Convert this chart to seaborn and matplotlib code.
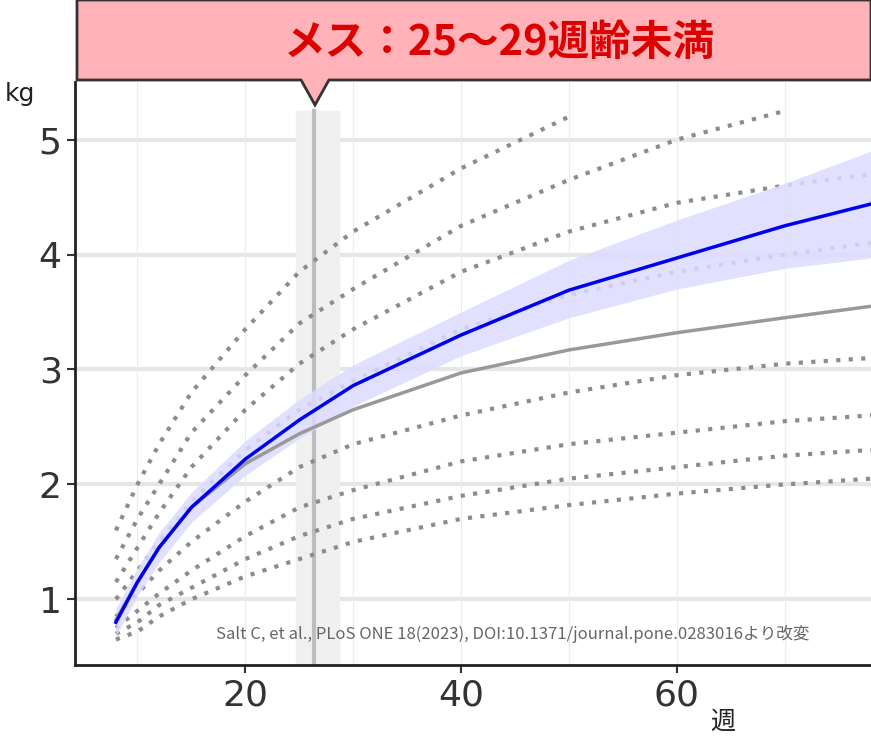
import numpy as np
import pandas as pd
import matplotlib
matplotlib.use("Agg")
import matplotlib.pyplot as plt
import seaborn as sns
from matplotlib.patches import Polygon

weeks = [8, 10, 12, 15, 20, 25, 30, 40, 50, 60, 70, 78]
blue_mean = [0.8, 1.15, 1.45, 1.8, 2.22, 2.56, 2.86, 3.3, 3.69, 3.97, 4.25, 4.44]
blue_low = [0.68, 1.03, 1.32, 1.67, 2.08, 2.4, 2.68, 3.12, 3.45, 3.7, 3.88, 3.97]
blue_high = [0.92, 1.27, 1.58, 1.93, 2.38, 2.74, 3.04, 3.5, 3.95, 4.3, 4.62, 4.9]
gray_mean = [0.82, 1.15, 1.45, 1.8, 2.18, 2.44, 2.65, 2.97, 3.17, 3.32, 3.45, 3.55]

pct_curves = {
    "P1": [1.6, 2.0, 2.35, 2.8, 3.35, 3.85, 4.2, 4.75, 5.2, None, None, None],
    "P2": [1.35, 1.7, 2.0, 2.45, 2.95, 3.4, 3.7, 4.25, 4.65, 5.0, 5.25, None],
    "P3": [1.15, 1.45, 1.75, 2.15, 2.65, 3.05, 3.35, 3.85, 4.2, 4.45, 4.6, 4.7],
    "P4": [1.0, 1.25, 1.5, 1.85, 2.3, 2.65, 2.9, 3.35, 3.65, 3.85, 4.0, 4.1],
    "P5": [0.85, 1.05, 1.25, 1.5, 1.85, 2.15, 2.35, 2.6, 2.8, 2.95, 3.05, 3.1],
    "P6": [0.75, 0.9, 1.05, 1.25, 1.55, 1.8, 1.95, 2.2, 2.35, 2.45, 2.55, 2.6],
    "P7": [0.7, 0.8, 0.95, 1.1, 1.35, 1.55, 1.7, 1.9, 2.05, 2.15, 2.25, 2.3],
    "P8": [0.65, 0.72, 0.85, 1.0, 1.2, 1.35, 1.5, 1.7, 1.82, 1.92, 2.0, 2.05],
}

x_ticks = [20, 40, 60]
y_ticks = [1, 2, 3, 4, 5]
title = "メス：25～29週齢未満"
source = "Salt C, et al., PLoS ONE 18(2023), DOI:10.1371/journal.pone.0283016より改変"
band_start, band_end, band_mid = 24.7, 28.7, 26.4

jp = "Noto Sans CJK JP"
fig = plt.figure(figsize=(8.71, 7.47), dpi=100)
ax = fig.add_axes([0.086, 0.11, 0.914, 0.78])

ax.set_xlim(4.2, 78)
ax.set_ylim(0.43, 5.5)
for y in y_ticks:
    ax.axhline(y, color="#e6e6e6", lw=3, zorder=0)
for x in range(10, 80, 10):
    ax.axvline(x, color="#ececec", lw=0.8, zorder=0)

ax.axvspan(band_start, band_end, ymax=0.95, color="#f0f0f0", zorder=1)
ax.axvline(band_mid, ymax=0.95, color="#bdbdbd", lw=3, zorder=1)

for name, vals in pct_curves.items():
    df = pd.DataFrame({"w": weeks, "kg": vals}).dropna()
    sns.lineplot(data=df, x="w", y="kg", ax=ax, color="#8c8c8c", lw=3,
                 linestyle=(0, (1, 2)), zorder=2)

ax.fill_between(weeks, blue_low, blue_high, color="#dcdcff", alpha=0.85, lw=0, zorder=3)
sns.lineplot(x=weeks, y=gray_mean, ax=ax, color="#999999", lw=2.5, zorder=4)
sns.lineplot(x=weeks, y=blue_mean, ax=ax, color="#0000ee", lw=2.5, zorder=5)

ax.set_xticks(x_ticks)
ax.set_yticks(y_ticks)
ax.tick_params(labelsize=26, length=6, width=1.5, colors="#333333")
ax.set_xlabel("")
ax.set_ylabel("")
for s in ["top", "right"]:
    ax.spines[s].set_visible(False)
for s in ["left", "bottom"]:
    ax.spines[s].set_linewidth(2)
    ax.spines[s].set_color("#222222")

ax.text(0.55, 0.045, source, transform=ax.transAxes, ha="center",
        fontsize=12, color="#666666", family=jp, zorder=6)
fig.text(0.005, 0.865, "kg", fontsize=18, color="#222222")
fig.text(0.815, 0.025, "週", fontsize=18, family=jp, color="#222222", va="baseline")

# banner
bx0, bx1, by0, by1 = 77 / 871, 1.0, 1 - 80 / 747, 1.0
tip_x = 315 / 871
banner = Polygon([(bx0, by1), (bx1, by1), (bx1, by0), (tip_x + 0.016, by0),
                  (tip_x, 1 - 105 / 747), (tip_x - 0.016, by0), (bx0, by0)],
                 closed=True, transform=fig.transFigure, facecolor="#ffb3b8",
                 edgecolor="#333333", lw=2, zorder=10)
fig.patches.append(banner)
fig.text(0.573, 0.942, title, ha="center", va="center", fontsize=30,
         fontweight="bold", color="#dd0000", family=jp, zorder=11)

fig.savefig("out.png", dpi=100)
